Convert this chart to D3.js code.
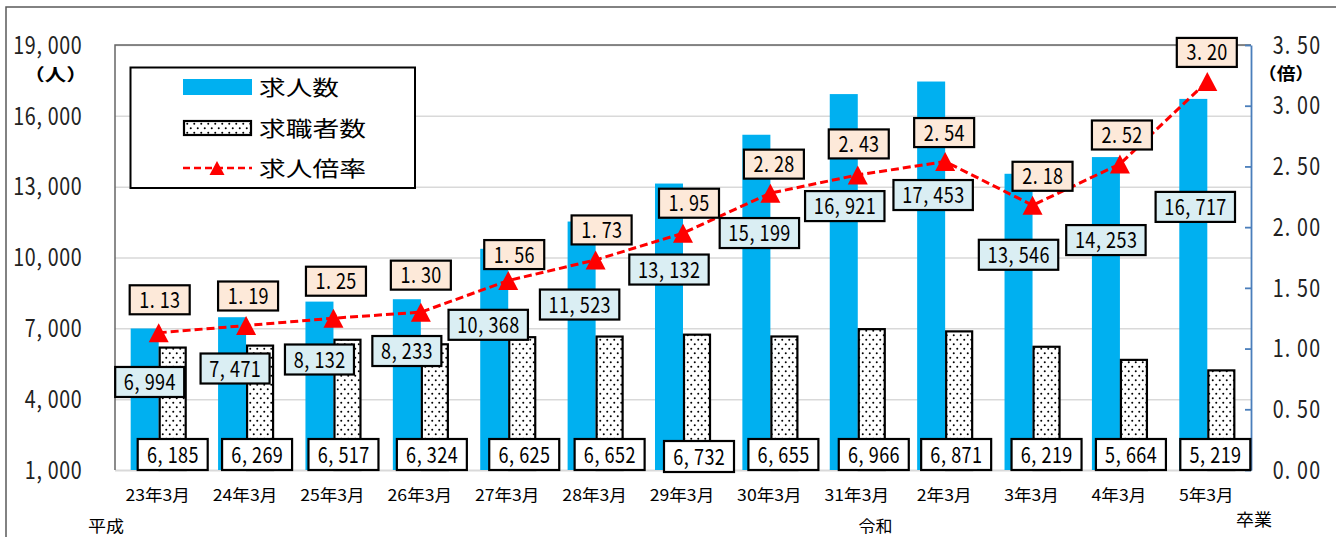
<!DOCTYPE html>
<html>
<head>
<meta charset="utf-8">
<script src="https://cdn.jsdelivr.net/npm/d3@7"></script>
<style>
  body { margin: 0; background: #fff; }
  svg { display: block; font-family: "Noto Sans CJK JP", "Noto Sans", sans-serif; }
</style>
</head>
<body>
<svg id="chart" width="1336" height="537"></svg>
<script>
// ---- data ----
const categories = ["23年3月", "24年3月", "25年3月", "26年3月", "27年3月", "28年3月", "29年3月",
                    "30年3月", "31年3月", "2年3月", "3年3月", "4年3月", "5年3月"];
const openings = [6994, 7471, 8132, 8233, 10368, 11523, 13132, 15199, 16921, 17453, 13546, 14253, 16717]; // 求人数
const seekers  = [6185, 6269, 6517, 6324, 6625, 6652, 6732, 6655, 6966, 6871, 6219, 5664, 5219];        // 求職者数
const ratios   = [1.13, 1.19, 1.25, 1.30, 1.56, 1.73, 1.95, 2.28, 2.43, 2.54, 2.18, 2.52, 3.20];        // 求人倍率
const leftTicks  = [1000, 4000, 7000, 10000, 13000, 16000, 19000];
const rightTicks = [0, 0.5, 1.0, 1.5, 2.0, 2.5, 3.0, 3.5];
const seriesNames = ["求人数", "求職者数", "求人倍率"];

// ---- label placement (pixel nudges) ----
const openingsLabelShift = [[5, 53.5], [3, 51.3], [0, 57.9], [0, 51.8], [-6, 76], [-2, 83], [0, 86],
                            [3, 98.3], [1, 112], [2, 113.5], [0, 81], [0, 83], [2, 108]];
const seekersLabelShift  = [[0, 0], [-3, 0], [-4, 0], [-3, 0], [2, 0], [0, 0], [2, 2],
                            [-1, 0], [2, 0], [-3, 0], [0, 0], [-3, 0], [-6, 0]];
const ratioLabelShift    = [[1, -33], [2, -29.5], [2.5, -37], [0, -37], [6, -26], [6, -30], [6, -30],
                            [3.5, -29], [1, -31], [-1, -29], [10, -29], [2, -29], [-0.5, -29]];

const M = { left: 115, right: 1251, top: 45, bottom: 470 };
const svg = d3.select("#chart");

const x = d3.scaleBand().domain(categories).range([M.left, M.right]);
const sub = d3.scaleBand().domain(["openings", "seekers"]).range([0, x.bandwidth()]).paddingOuter(0.56);
const yL = d3.scaleLinear().domain([1000, 19000]).range([M.bottom, M.top]);
const yR = d3.scaleLinear().domain([0, 3.5]).range([M.bottom, M.top]);
const cx = i => x(categories[i]) + x.bandwidth() / 2;

// dotted fill
const defs = svg.append("defs");
const pat = defs.append("pattern").attr("id", "dots").attr("patternUnits", "userSpaceOnUse")
  .attr("width", 7).attr("height", 9);
pat.append("rect").attr("width", 7).attr("height", 9).attr("fill", "#fff");
pat.append("circle").attr("cx", 1.75).attr("cy", 2.25).attr("r", 1).attr("fill", "#000");
pat.append("circle").attr("cx", 5.25).attr("cy", 6.75).attr("r", 1).attr("fill", "#000");

// helpers: monospaced numeric text (each glyph in its own cell), stretched CJK text
function monoText(g, str, px, py, o) {
  const chars = [...String(str)];
  const w = chars.length * o.pitch;
  const x0 = o.anchor === "end" ? px - w : o.anchor === "start" ? px : px - w / 2;
  const xs = chars.map((ch, i) => (x0 + (i + 0.5) * o.pitch - ((ch === "," || ch === ".") ? o.pitch * 0.22 : 0)) / o.sx);
  return g.append("text")
    .attr("transform", `scale(${o.sx},1)`)
    .attr("x", xs.join(" "))
    .attr("y", py + o.size * 0.365)
    .attr("text-anchor", "middle")
    .attr("font-size", o.size)
    .attr("fill", o.fill || "#000")
    .text(str);
}
function cjkText(g, str, px, py, size, len, anchor) {
  return g.append("text")
    .attr("x", px).attr("y", py)
    .attr("font-size", size)
    .attr("text-anchor", anchor || "start")
    .attr("textLength", len)
    .attr("lengthAdjust", "spacingAndGlyphs")
    .attr("fill", "#000")
    .text(str);
}
const fmt = d3.format(",");

// outer frame
svg.append("rect").attr("x", 6).attr("y", 7).attr("width", 1400).attr("height", 600)
  .attr("fill", "none").attr("stroke", "#595959").attr("stroke-width", 1.5);

// gridlines
const grid = svg.append("g").attr("transform", `translate(${M.left},0)`)
  .call(d3.axisLeft(yL).tickValues(leftTicks).tickSize(-(M.right - M.left)).tickFormat(""));
grid.select(".domain").remove();
grid.selectAll(".tick line").attr("stroke", "#d9d9d9").attr("stroke-width", 1.5);
grid.selectAll(".tick").filter(d => d === 1000).select("line").attr("stroke-width", 2.2);

// bars: 求人数
svg.append("g").selectAll("rect").data(openings).join("rect")
  .attr("x", (d, i) => x(categories[i]) + sub("openings"))
  .attr("width", sub.bandwidth())
  .attr("y", d => yL(d))
  .attr("height", d => yL(1000) - yL(d))
  .attr("fill", "#00B0F0");

// bars: 求職者数
svg.append("g").selectAll("rect").data(seekers).join("rect")
  .attr("x", (d, i) => x(categories[i]) + sub("seekers") + 1)
  .attr("width", sub.bandwidth() - 2)
  .attr("y", d => yL(d))
  .attr("height", d => yL(1000) - yL(d))
  .attr("fill", "url(#dots)")
  .attr("stroke", "#000").attr("stroke-width", 2.2);

// plot area border (left & top)
svg.append("path")
  .attr("d", `M${M.left},${M.bottom} V${M.top} H${M.right}`)
  .attr("fill", "none").attr("stroke", "#666").attr("stroke-width", 1.5);

// right axis
const axR = svg.append("g").attr("transform", `translate(${M.right},0)`)
  .call(d3.axisLeft(yR).tickValues(rightTicks).tickSize(6).tickSizeOuter(0).tickFormat(""));
axR.select(".domain").attr("stroke", "#4A7EBB").attr("stroke-width", 1.8);
axR.selectAll(".tick line").attr("stroke", "#4A7EBB").attr("stroke-width", 1.8);

// tick labels
const tickG = svg.append("g");
leftTicks.forEach(t => monoText(tickG, fmt(t), 82, yL(t), { pitch: 11.5, size: 24, sx: 0.82, anchor: "end", fill: "#222" }));
rightTicks.forEach(t => monoText(tickG, d3.format(".2f")(t), 1272, yR(t), { pitch: 12.2, size: 24, sx: 0.82, anchor: "start", fill: "#222" }));
cjkText(tickG, "（人）", 55.5, 81, 17, 64, "middle").attr("font-weight", 700);
cjkText(tickG, "（倍）", 1286, 80, 17, 56, "middle").attr("font-weight", 700);

// category labels
const catG = svg.append("g");
categories.forEach((c, i) => {
  const t = catG.append("text").attr("x", cx(i) - 1).attr("y", 501).attr("font-size", 16)
    .attr("text-anchor", "middle").attr("fill", "#000").text(c);
  const w = t.node().getComputedTextLength();
  t.attr("textLength", w * 1.1).attr("lengthAdjust", "spacingAndGlyphs");
});
cjkText(catG, "平成", 88, 532, 16, 36);
cjkText(catG, "令和", 875.5, 532, 16, 34, "middle");
cjkText(catG, "卒業", 1254, 526, 17, 36, "middle");

// ratio line + markers
const line = d3.line().x((d, i) => cx(i)).y(d => yR(d));
svg.append("path").datum(ratios).attr("d", line)
  .attr("fill", "none").attr("stroke", "#FF0000").attr("stroke-width", 3).attr("stroke-dasharray", "8,4");
const tri = (w, h) => `M0,${-h / 2}L${w / 2},${h / 2}L${-w / 2},${h / 2}Z`;
svg.append("g").selectAll("path").data(ratios).join("path")
  .attr("transform", (d, i) => `translate(${cx(i)},${yR(d)})`)
  .attr("d", tri(20, 19)).attr("fill", "#FF0000");

// data label boxes
const labG = svg.append("g");
function box(str, px, py, o) {
  const w = [...str].length * o.pitch + o.pad;
  labG.append("rect").attr("x", px - w / 2).attr("y", py - o.h / 2).attr("width", w).attr("height", o.h)
    .attr("fill", o.fill).attr("stroke", "#000").attr("stroke-width", 2.2);
  monoText(labG, str, px, py, { pitch: o.pitch, size: 22, sx: 0.82, anchor: "middle" });
}
openings.forEach((v, i) => {
  const px = x(categories[i]) + sub("openings") + sub.bandwidth() / 2 + openingsLabelShift[i][0];
  const py = yL(v) + openingsLabelShift[i][1];
  box(fmt(v), px, py, { pitch: 10.4, pad: 17, h: 30, fill: "#DAEEF3" });
});
seekers.forEach((v, i) => {
  const px = x(categories[i]) + sub("seekers") + sub.bandwidth() / 2 + seekersLabelShift[i][0];
  const py = 454.5 + seekersLabelShift[i][1];
  box(fmt(v), px, py, { pitch: 10.4, pad: 18, h: 31, fill: "#FFFFFF" });
});
ratios.forEach((v, i) => {
  const px = cx(i) + ratioLabelShift[i][0];
  const py = yR(v) + ratioLabelShift[i][1];
  box(d3.format(".2f")(v), px, py, { pitch: 10.25, pad: 19, h: 29, fill: "#FDE9D9" });
});

// legend
const lg = svg.append("g");
lg.append("rect").attr("x", 130.5).attr("y", 67.5).attr("width", 284.5).attr("height", 120.5)
  .attr("fill", "#fff").attr("stroke", "#000").attr("stroke-width", 2);
lg.append("rect").attr("x", 183).attr("y", 79).attr("width", 69).attr("height", 16).attr("fill", "#00B0F0");
lg.append("rect").attr("x", 184).attr("y", 121).attr("width", 67).attr("height", 14)
  .attr("fill", "url(#dots)").attr("stroke", "#000").attr("stroke-width", 2.2);
lg.append("line").attr("x1", 183).attr("x2", 252).attr("y1", 168).attr("y2", 168)
  .attr("stroke", "#FF0000").attr("stroke-width", 2.5).attr("stroke-dasharray", "7,4");
lg.append("path").attr("transform", "translate(217,168)").attr("d", tri(15, 14)).attr("fill", "#FF0000");
cjkText(lg, seriesNames[0], 259, 95, 21, 80);
cjkText(lg, seriesNames[1], 259, 136, 21, 107);
cjkText(lg, seriesNames[2], 259, 176, 21, 107);
</script>
</body>
</html>
